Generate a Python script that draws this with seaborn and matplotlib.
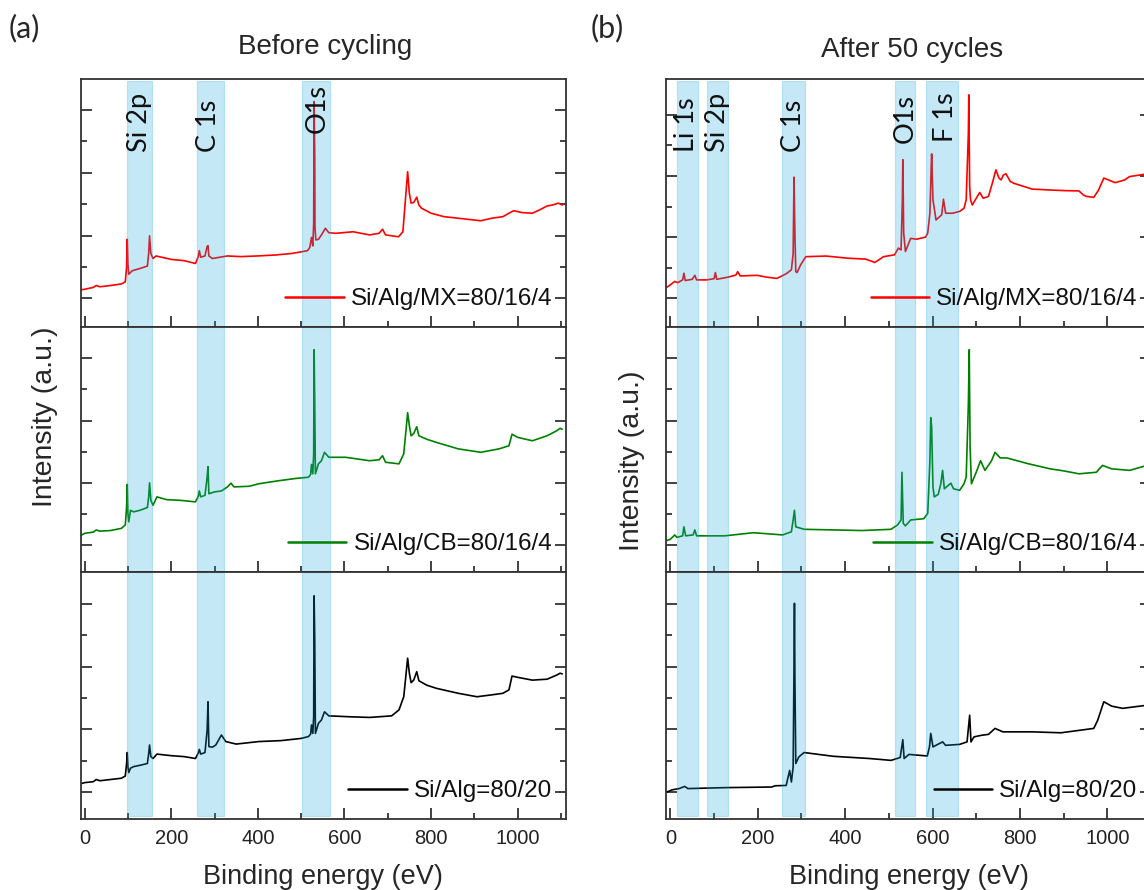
import matplotlib
matplotlib.use("Agg")
import matplotlib.pyplot as plt
from matplotlib.ticker import FixedLocator, MultipleLocator
import seaborn as sns

# ---------------------------------------------------------------------------
# XPS survey spectra (binding energy in eV, intensity in arbitrary units)
# ---------------------------------------------------------------------------

# (a) before cycling -- Si/Alg/MX = 80/16/4
be_a_mx = [-10, 0, 20, 27, 35, 60, 85, 94, 97, 98.5, 100, 102, 110, 130, 145, 148, 150, 153,
           158, 165, 200, 230, 256, 262, 265, 268, 278, 283, 285, 287, 295, 330, 360, 400,
           440, 479, 504, 515, 520, 524, 527, 529, 530, 531.5, 532, 534, 540, 547, 556, 564,
           580, 620, 658, 680, 688, 695, 725, 735, 742, 746, 750, 754, 760, 767, 772, 778,
           800, 830, 863, 915, 940, 966, 980, 991, 1010, 1034, 1050, 1068, 1080, 1094, 1103]
int_a_mx = [0.27, 0.29, 0.35, 0.41, 0.37, 0.41, 0.46, 0.53, 1.01, 1.88, 1.11, 0.77, 0.88, 0.96,
            1.03, 1.43, 1.99, 1.43, 1.27, 1.35, 1.24, 1.20, 1.11, 1.31, 1.52, 1.31, 1.35, 1.65,
            1.68, 1.35, 1.27, 1.35, 1.33, 1.35, 1.38, 1.43, 1.49, 1.52, 1.62, 1.94, 1.67, 2.39,
            6.26, 4.46, 2.28, 1.86, 1.88, 2.02, 2.23, 2.09, 2.07, 2.12, 2.02, 2.07, 2.20, 2.02,
            1.96, 2.12, 3.34, 4.03, 3.34, 3.03, 3.05, 3.22, 2.97, 2.87, 2.71, 2.60, 2.55, 2.47,
            2.55, 2.60, 2.71, 2.79, 2.73, 2.71, 2.81, 2.94, 2.97, 3.03, 2.97]

# (a) before cycling -- Si/Alg/CB = 80/16/4
be_a_cb = [-10, 0, 20, 27, 35, 60, 85, 94, 97, 98.5, 100, 102, 106, 113, 128, 145, 148, 150,
           153, 158, 167, 190, 220, 256, 262, 265, 268, 278, 283, 285, 287, 300, 316, 330,
           338, 345, 380, 402, 444, 487, 517, 522, 524, 527, 529, 530, 531.5, 533, 540, 547,
           554, 564, 603, 658, 680, 688, 695, 726, 737, 746, 750, 754, 760, 767, 772, 790,
           812, 863, 915, 957, 980, 987, 1000, 1034, 1068, 1090, 1098, 1103]
int_a_cb = [0.30, 0.38, 0.42, 0.49, 0.45, 0.47, 0.54, 0.65, 1.23, 1.95, 1.02, 0.75, 1.12, 1.07,
            1.12, 1.21, 1.55, 2.00, 1.44, 1.28, 1.55, 1.46, 1.44, 1.39, 1.55, 1.74, 1.55, 1.60,
            2.18, 2.52, 1.65, 1.71, 1.74, 1.87, 1.99, 1.87, 1.89, 1.97, 2.06, 2.14, 2.18, 2.27,
            2.59, 2.29, 2.93, 6.27, 4.52, 2.29, 2.61, 2.71, 2.98, 2.82, 2.82, 2.71, 2.74, 2.87,
            2.66, 2.61, 2.93, 4.25, 3.83, 3.51, 3.58, 3.80, 3.51, 3.40, 3.30, 3.09, 2.98, 3.09,
            3.19, 3.56, 3.46, 3.35, 3.51, 3.67, 3.75, 3.72]

# (a) before cycling -- Si/Alg = 80/20
be_a_alg = [-10, 0, 20, 27, 35, 60, 85, 94, 97, 98.5, 100, 102, 106, 113, 130, 145, 148, 150,
            153, 158, 167, 200, 230, 256, 262, 265, 268, 278, 283, 285, 287, 295, 303, 316,
            326, 350, 402, 453, 500, 517, 522, 524, 527, 529, 530, 531.5, 533, 540, 547, 554,
            564, 615, 658, 709, 726, 737, 746, 750, 754, 760, 767, 772, 790, 812, 863, 906,
            940, 966, 980, 987, 1000, 1034, 1068, 1090, 1098, 1103]
int_a_alg = [0.26, 0.30, 0.33, 0.40, 0.36, 0.40, 0.44, 0.51, 0.91, 1.26, 0.81, 0.62, 0.76, 0.81,
             0.86, 0.91, 1.23, 1.50, 1.13, 1.07, 1.21, 1.16, 1.13, 1.07, 1.23, 1.36, 1.21, 1.26,
             1.98, 2.88, 1.45, 1.43, 1.50, 1.82, 1.61, 1.53, 1.61, 1.64, 1.71, 1.77, 1.85, 2.14,
             1.87, 2.40, 6.26, 4.85, 1.87, 2.19, 2.30, 2.56, 2.43, 2.40, 2.38, 2.43, 2.62, 3.04,
             4.27, 3.79, 3.49, 3.57, 3.84, 3.55, 3.41, 3.31, 3.15, 3.04, 3.10, 3.15, 3.26, 3.70,
             3.66, 3.57, 3.60, 3.73, 3.79, 3.77]

# (b) after 50 cycles -- Si/Alg/MX = 80/16/4
be_b_mx = [-8, 0, 10, 17, 28, 31, 34, 50, 56, 60, 83, 100, 103, 106, 132, 150, 154, 160, 199,
           220, 244, 265, 277, 281, 283, 285, 287, 290, 298, 310, 356, 406, 447, 468, 488,
           513, 522, 528, 531, 532, 534, 538, 550, 563, 584, 589, 594, 597, 598, 601, 608,
           621, 625, 630, 646, 662, 672, 677, 682, 683, 685, 687, 691, 700, 708, 716, 728,
           738, 745, 752, 757, 762, 768, 778, 786, 828, 869, 902, 935, 945, 952, 969, 980,
           992, 1018, 1040, 1051, 1075, 1091, 1100]
int_b_mx = [0.36, 0.44, 0.55, 0.51, 0.60, 0.82, 0.58, 0.62, 0.75, 0.60, 0.60, 0.64, 0.84, 0.62,
            0.69, 0.76, 0.87, 0.73, 0.75, 0.69, 0.65, 0.80, 0.93, 1.47, 3.96, 2.13, 0.87, 0.84,
            1.09, 1.36, 1.38, 1.31, 1.28, 1.17, 1.36, 1.42, 1.64, 1.58, 3.22, 4.53, 2.13, 1.53,
            1.96, 1.93, 2.00, 2.13, 2.78, 4.31, 4.72, 3.22, 2.56, 2.73, 3.24, 2.78, 2.78, 2.84,
            2.94, 3.22, 5.40, 6.65, 3.65, 3.22, 3.05, 3.27, 3.46, 3.27, 3.33, 3.82, 4.20, 3.93,
            3.87, 4.03, 4.07, 3.82, 3.76, 3.57, 3.54, 3.52, 3.51, 3.38, 3.33, 3.30, 3.54, 3.93,
            3.78, 3.87, 3.98, 4.03, 4.07, 4.09]

# (b) after 50 cycles -- Si/Alg/CB = 80/16/4
be_b_cb = [-8, 0, 10, 15, 28, 31, 35, 52, 56, 60, 124, 190, 257, 277, 281, 284, 287, 306, 373,
           439, 505, 520, 528, 530, 533, 538, 550, 580, 589, 594, 596, 598, 601, 604, 613,
           619, 623, 627, 642, 648, 662, 672, 677, 682, 684, 686, 689, 700, 710, 720, 735,
           743, 755, 770, 820, 869, 902, 935, 975, 989, 1010, 1051, 1091, 1100]
int_b_cb = [0.15, 0.19, 0.33, 0.25, 0.30, 0.59, 0.30, 0.33, 0.49, 0.30, 0.30, 0.40, 0.33, 0.43,
            0.81, 1.12, 0.59, 0.51, 0.49, 0.47, 0.51, 0.65, 0.81, 2.34, 0.70, 0.62, 0.81, 0.85,
            1.02, 2.71, 4.09, 3.78, 1.87, 1.55, 1.63, 1.97, 2.40, 1.81, 1.99, 1.81, 1.76, 1.97,
            2.18, 4.52, 6.27, 3.14, 1.97, 2.34, 2.71, 2.40, 2.71, 2.98, 2.80, 2.80, 2.61, 2.45,
            2.38, 2.29, 2.34, 2.56, 2.45, 2.40, 2.56, 2.59]

# (b) after 50 cycles -- Si/Alg = 80/20
be_b_alg = [-8, 4, 20, 33, 40, 124, 232, 240, 265, 273, 277, 281, 283, 284, 285, 287, 294, 306,
            373, 455, 505, 526, 532, 535, 546, 588, 593, 596, 601, 623, 630, 662, 679, 685,
            688, 695, 712, 728, 743, 761, 828, 894, 969, 978, 992, 1010, 1035, 1091, 1100]
int_b_alg = [0.00, 0.07, 0.11, 0.18, 0.11, 0.14, 0.16, 0.20, 0.21, 0.69, 0.32, 0.80, 4.10, 6.02,
             3.73, 0.91, 1.12, 1.26, 1.14, 1.07, 1.01, 1.10, 1.67, 1.07, 1.20, 1.15, 1.44, 1.87,
             1.44, 1.60, 1.49, 1.52, 1.60, 2.45, 1.60, 1.76, 1.81, 1.84, 2.03, 1.92, 1.92, 1.89,
             2.03, 2.29, 2.88, 2.74, 2.67, 2.77, 2.80]

sample_names = ["Si/Alg/MX=80/16/4", "Si/Alg/CB=80/16/4", "Si/Alg=80/20"]
sample_colors = ["#ff0000", "#008000", "#000000"]

# core-level regions highlighted in each column (eV)
regions_a = [(98, 155), (259, 321), (502, 566)]
region_labels_a = ["Si 2p", "C 1s", "O1s"]
regions_b = [(15, 63), (84, 133), (256, 307), (514, 560), (586, 658)]
region_labels_b = ["Li 1s", "Si 2p", "C 1s", "O1s", "F 1s"]

# ---------------------------------------------------------------------------
sns.set_theme(style="ticks")
plt.rcParams["font.family"] = ["Liberation Sans", "DejaVu Sans"]
plt.rcParams["axes.linewidth"] = 1.3

W, H = 1144, 890
fig = plt.figure(figsize=(W / 100, H / 100), dpi=100)

AX_EDGE = "#333333"
BAND = (23 / 255, 167 / 255, 223 / 255)


def px_box(x0, x1, top, bottom):
    return [x0 / W, 1 - bottom / H, (x1 - x0) / W, (bottom - top) / H]


rows = [(79.3, 327.0), (327.0, 572.0), (572.0, 819.3)]
ylims_a = [(-0.91, 6.97), (-0.86, 7.00), (-0.87, 7.02)]
ylims_b = [(-0.94, 7.16), (-0.86, 7.00), (-0.87, 7.02)]

columns = [
    dict(x0=81.0, x1=565.7, xlim=(-8.3, 1111), ylims=ylims_a,
         series=[(be_a_mx, int_a_mx), (be_a_cb, int_a_cb), (be_a_alg, int_a_alg)],
         regions=regions_a, labels=region_labels_a,
         label_x=[126, 287, 537], label_y=[0.706, 0.706, 0.782]),
    dict(x0=666.0, x1=1151.0, xlim=(-10, 1100), ylims=ylims_b,
         series=[(be_b_mx, int_b_mx), (be_b_cb, int_b_cb), (be_b_alg, int_b_alg)],
         regions=regions_b, labels=region_labels_b,
         label_x=[38, 108, 281, 537, 630], label_y=[0.706, 0.706, 0.706, 0.742, 0.746]),
]

for col in columns:
    for r, (top, bottom) in enumerate(rows):
        ax = fig.add_axes(px_box(col["x0"], col["x1"], top, bottom))
        be, inten = col["series"][r]
        sns.lineplot(x=be, y=inten, ax=ax, color=sample_colors[r], linewidth=1.2,
                     sort=False, estimator=None, label=sample_names[r], zorder=2)

        ymin = 0.012 if r == 2 else 0.0
        ymax = 0.993 if r == 0 else 1.0
        for lo, hi in col["regions"]:
            ax.axvspan(lo, hi, ymin=ymin, ymax=ymax, facecolor=BAND, alpha=0.25,
                       edgecolor=BAND, linewidth=0.8, zorder=3)

        ax.set_xlim(*col["xlim"])
        ax.set_ylim(*col["ylims"][r])
        ax.set_xlabel("")
        ax.set_ylabel("")

        ax.xaxis.set_major_locator(FixedLocator([0, 200, 400, 600, 800, 1000]))
        ax.xaxis.set_minor_locator(MultipleLocator(100))
        ax.yaxis.set_major_locator(FixedLocator([0, 2, 4, 6]))
        ax.yaxis.set_minor_locator(FixedLocator([1, 3, 5]))
        ax.tick_params(axis="both", which="both", direction="in", color=AX_EDGE,
                       width=1.3, labelsize=14.5, labelcolor="#222222")
        ax.tick_params(which="major", length=8)
        ax.tick_params(which="minor", length=4)
        ax.tick_params(axis="y", which="both", left=True, right=True,
                       labelleft=False, labelright=False)
        ax.tick_params(axis="x", which="both", bottom=True, top=False, pad=7,
                       labelbottom=(r == 2))
        for sp in ax.spines.values():
            sp.set_visible(True)
            sp.set_color(AX_EDGE)
            sp.set_linewidth(1.3)
            sp.set_zorder(5)

        leg = ax.legend(loc="center right", bbox_to_anchor=(1.0, 0.113),
                        frameon=False, fontsize=17.5, handlelength=2.4,
                        handletextpad=0.3, borderaxespad=0.15, borderpad=0.4)
        for line in leg.get_lines():
            line.set_linewidth(1.8)
        for t in leg.get_texts():
            t.set_color("#111111")

        if r == 0:
            for name, lx, ly in zip(col["labels"], col["label_x"], col["label_y"]):
                ax.text(lx, ly, name, rotation=90, ha="center", va="bottom",
                        transform=ax.get_xaxis_transform(), fontsize=19.5,
                        family=["Lato", "DejaVu Sans"], color="#111111", zorder=6)

# panel letters, titles and axis labels
fig.text(24 / W, 1 - 28 / H, "(a)", ha="center", va="center", fontsize=22,
         family=["Lato", "DejaVu Sans"])
fig.text(607 / W, 1 - 28 / H, "(b)", ha="center", va="center", fontsize=22,
         family=["Lato", "DejaVu Sans"])
fig.text(325 / W, 1 - 47 / H, "Before cycling", ha="center", va="center", fontsize=20)
fig.text(912 / W, 1 - 50 / H, "After 50 cycles", ha="center", va="center", fontsize=20)
fig.text(45 / W, 1 - 417 / H, "Intensity (a.u.)", rotation=90, ha="center", va="center",
         fontsize=20.5)
fig.text(632 / W, 1 - 461 / H, "Intensity (a.u.)", rotation=90, ha="center", va="center",
         fontsize=20.5)
fig.text(323 / W, 1 - 877 / H, "Binding energy (eV)", ha="center", va="center", fontsize=19.5)
fig.text(909 / W, 1 - 877 / H, "Binding energy (eV)", ha="center", va="center", fontsize=19.5)

fig.savefig("out.png", dpi=100)
